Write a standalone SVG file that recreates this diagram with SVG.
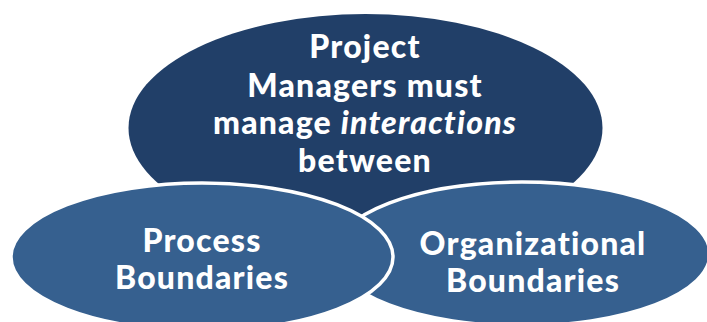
<svg xmlns="http://www.w3.org/2000/svg" width="707" height="322" viewBox="0 0 707 322">
<style>
.top{fill:#213F68}
.low{fill:#36608F;stroke:#ffffff;stroke-width:3.5}
.t{font-family:Lato,"Liberation Sans",sans-serif;font-weight:900;font-size:32px;fill:#ffffff;text-anchor:middle;letter-spacing:1.2px}
</style>
<rect width="707" height="322" fill="#ffffff"/>
<g id="node-top">
<ellipse class="top" cx="365.5" cy="128" rx="237" ry="114"/>
<text class="t" x="365" y="58">Project</text>
<text class="t" x="365" y="97">Managers must</text>
<text class="t" x="365" y="134">manage <tspan font-style="italic">interactions</tspan></text>
<text class="t" x="365" y="172">between</text>
</g>
<g id="node-organizational">
<ellipse class="low" cx="522" cy="254" rx="188" ry="72"/>
<text class="t" x="533" y="255">Organizational</text>
<text class="t" x="533" y="292">Boundaries</text>
</g>
<g id="node-process">
<ellipse class="low" cx="202" cy="257" rx="191" ry="74"/>
<text class="t" x="202" y="252">Process</text>
<text class="t" x="202" y="289">Boundaries</text>
</g>
<g id="connectors"></g>
</svg>
